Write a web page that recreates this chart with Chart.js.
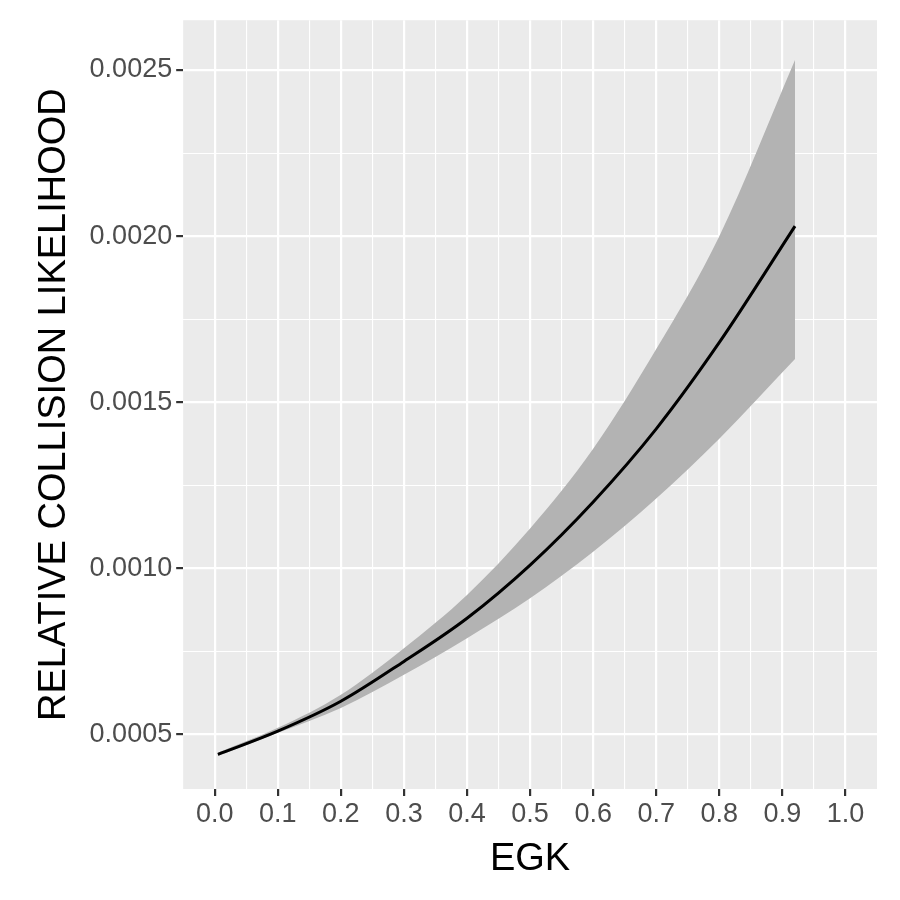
<!DOCTYPE html>
<html>
<head>
<meta charset="utf-8">
<script src="https://cdn.jsdelivr.net/npm/chart.js@4"></script>
<style>
  body { margin: 0; background: #fff; }
  #wrap { width: 900px; height: 900px; }
</style>
</head>
<body>
<div id="wrap"><canvas id="c"></canvas></div>
<script>
// values
const egk = [0.005, 0.1, 0.2, 0.3, 0.4, 0.5, 0.6, 0.7, 0.8, 0.92];
const fit = [0.00044, 0.00051, 0.00060, 0.00072, 0.00085, 0.00101, 0.00120, 0.00142, 0.00168, 0.00203];
const upper = [0.000445, 0.00052, 0.00062, 0.00076, 0.00092, 0.00112, 0.00136, 0.00166, 0.00200, 0.00253];
const lower = [0.000435, 0.000505, 0.00058, 0.00068, 0.00079, 0.00091, 0.00105, 0.00121, 0.00139, 0.00163];
const xTicks = [0, 0.1, 0.2, 0.3, 0.4, 0.5, 0.6, 0.7, 0.8, 0.9, 1.0];
const yTicks = [0.0005, 0.0010, 0.0015, 0.0020, 0.0025];

const pts = arr => arr.map((v, i) => ({ x: egk[i], y: v }));

// every break plus the minor line half way between
function withMinor(major) {
  const step = major[1] - major[0];
  const out = [];
  major.forEach((v, i) => {
    out.push({ value: v, major: true });
    if (i < major.length - 1) out.push({ value: v + step / 2, major: false });
  });
  return out;
}

const panelBg = {
  id: 'panelBg',
  beforeDraw(chart) {
    const a = chart.chartArea, g = chart.ctx;
    g.save();
    g.fillStyle = '#ebebeb';
    g.fillRect(a.left, a.top, a.right - a.left, a.bottom - a.top);
    g.restore();
  }
};

const gridOpts = {
  color: '#ffffff',
  lineWidth: c => (c.tick && c.tick.major ? 2.2 : 1.1),
  drawTicks: true,
  tickLength: 7,
  tickWidth: 2.2,
  tickColor: c => (c.tick && c.tick.major ? '#333333' : 'rgba(0,0,0,0)')
};

new Chart(document.getElementById('c'), {
  type: 'line',
  data: {
    datasets: [
      { data: pts(lower), order: 2, borderWidth: 0, pointRadius: 0, fill: false, backgroundColor: '#b3b3b3', cubicInterpolationMode: 'monotone' },
      { data: pts(upper), order: 1, borderWidth: 0, pointRadius: 0, fill: '-1', backgroundColor: '#b3b3b3', cubicInterpolationMode: 'monotone' },
      { data: pts(fit), order: 0, borderColor: '#000000', borderWidth: 3, pointRadius: 0, fill: false, cubicInterpolationMode: 'monotone' }
    ]
  },
  options: {
    responsive: true,
    maintainAspectRatio: false,
    animation: false,
    layout: { padding: { top: 20, right: 23, bottom: 18, left: 28 } },
    plugins: { legend: { display: false }, tooltip: { enabled: false } },
    scales: {
      x: {
        type: 'linear',
        min: -0.05, max: 1.05,
        afterBuildTicks: ax => { ax.ticks = withMinor(xTicks); },
        grid: gridOpts,
        border: { display: false },
        ticks: {
          color: '#4d4d4d', font: { family: 'Liberation Sans', size: 27 }, padding: 2,
          autoSkip: false, maxRotation: 0,
          callback: function (v, i, t) { return t[i].major ? v.toFixed(1) : ''; }
        },
        title: { display: true, text: 'EGK', color: '#000', font: { family: 'Liberation Sans', size: 38 }, padding: { top: 4, bottom: 0 } }
      },
      y: {
        type: 'linear',
        min: 0.000336, max: 0.00265,
        afterBuildTicks: ax => { ax.ticks = withMinor(yTicks); },
        grid: gridOpts,
        border: { display: false },
        ticks: {
          color: '#4d4d4d', font: { family: 'Liberation Sans', size: 27 }, padding: 4,
          autoSkip: false,
          callback: function (v, i, t) { return t[i].major ? v.toFixed(4) : ''; }
        },
        title: { display: true, text: 'RELATIVE COLLISION LIKELIHOOD', color: '#000', font: { family: 'Liberation Sans', size: 38 }, padding: { bottom: 8 } }
      }
    }
  },
  plugins: [panelBg]
});
</script>
</body>
</html>
